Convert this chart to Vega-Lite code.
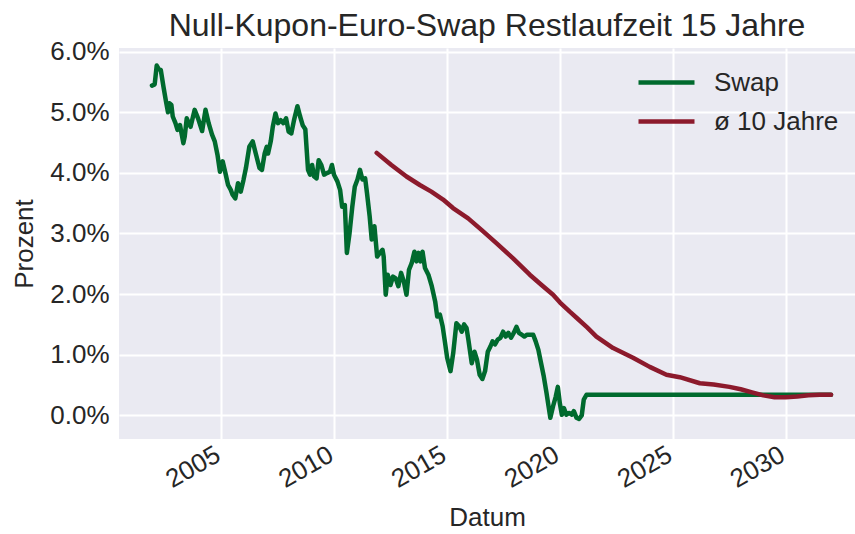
{
  "$schema": "https://vega.github.io/schema/vega-lite/v6.json",
  "autosize": {"type": "none"},
  "width": 736,
  "height": 391,
  "padding": {"left": 119, "top": 48, "right": 0, "bottom": 95},
  "background": "white",
  "title": {
    "text": "Null-Kupon-Euro-Swap Restlaufzeit 15 Jahre",
    "font": "Liberation Sans",
    "fontSize": 32,
    "fontWeight": "normal",
    "color": "#262626",
    "anchor": "middle",
    "offset": -4
  },
  "datasets": {
    "swap": [
      {"jahr": 2001.93, "wert": 5.44}, {"jahr": 2002.05, "wert": 5.46}, {"jahr": 2002.14, "wert": 5.77}, {"jahr": 2002.23, "wert": 5.71},
      {"jahr": 2002.32, "wert": 5.70}, {"jahr": 2002.44, "wert": 5.42}, {"jahr": 2002.55, "wert": 5.18}, {"jahr": 2002.64, "wert": 5.00},
      {"jahr": 2002.70, "wert": 5.15}, {"jahr": 2002.79, "wert": 5.12}, {"jahr": 2002.85, "wert": 4.93}, {"jahr": 2002.97, "wert": 4.82},
      {"jahr": 2003.06, "wert": 4.71}, {"jahr": 2003.17, "wert": 4.79}, {"jahr": 2003.32, "wert": 4.49}, {"jahr": 2003.38, "wert": 4.60},
      {"jahr": 2003.47, "wert": 4.90}, {"jahr": 2003.56, "wert": 4.82}, {"jahr": 2003.64, "wert": 4.76}, {"jahr": 2003.82, "wert": 5.04},
      {"jahr": 2003.97, "wert": 4.90}, {"jahr": 2004.15, "wert": 4.69}, {"jahr": 2004.30, "wert": 5.04}, {"jahr": 2004.44, "wert": 4.82},
      {"jahr": 2004.59, "wert": 4.63}, {"jahr": 2004.71, "wert": 4.52}, {"jahr": 2004.83, "wert": 4.30}, {"jahr": 2004.94, "wert": 4.02},
      {"jahr": 2005.06, "wert": 4.19}, {"jahr": 2005.18, "wert": 4.00}, {"jahr": 2005.30, "wert": 3.80}, {"jahr": 2005.42, "wert": 3.72},
      {"jahr": 2005.50, "wert": 3.64}, {"jahr": 2005.62, "wert": 3.58}, {"jahr": 2005.74, "wert": 3.83}, {"jahr": 2005.86, "wert": 3.69},
      {"jahr": 2005.98, "wert": 3.88}, {"jahr": 2006.09, "wert": 4.08}, {"jahr": 2006.24, "wert": 4.43}, {"jahr": 2006.39, "wert": 4.52},
      {"jahr": 2006.54, "wert": 4.30}, {"jahr": 2006.69, "wert": 4.08}, {"jahr": 2006.80, "wert": 4.05}, {"jahr": 2006.92, "wert": 4.32},
      {"jahr": 2007.01, "wert": 4.43}, {"jahr": 2007.07, "wert": 4.32}, {"jahr": 2007.19, "wert": 4.52}, {"jahr": 2007.28, "wert": 4.76},
      {"jahr": 2007.40, "wert": 4.98}, {"jahr": 2007.51, "wert": 4.82}, {"jahr": 2007.63, "wert": 4.87}, {"jahr": 2007.75, "wert": 4.82},
      {"jahr": 2007.87, "wert": 4.90}, {"jahr": 2007.98, "wert": 4.68}, {"jahr": 2008.10, "wert": 4.65}, {"jahr": 2008.22, "wert": 4.87},
      {"jahr": 2008.37, "wert": 5.10}, {"jahr": 2008.49, "wert": 4.93}, {"jahr": 2008.61, "wert": 4.78}, {"jahr": 2008.72, "wert": 4.72},
      {"jahr": 2008.84, "wert": 4.05}, {"jahr": 2008.93, "wert": 3.97}, {"jahr": 2009.02, "wert": 4.13}, {"jahr": 2009.11, "wert": 3.94},
      {"jahr": 2009.22, "wert": 3.91}, {"jahr": 2009.31, "wert": 4.21}, {"jahr": 2009.43, "wert": 4.13}, {"jahr": 2009.55, "wert": 3.97},
      {"jahr": 2009.70, "wert": 4.00}, {"jahr": 2009.81, "wert": 4.02}, {"jahr": 2009.90, "wert": 4.13}, {"jahr": 2009.99, "wert": 3.97},
      {"jahr": 2010.14, "wert": 3.86}, {"jahr": 2010.26, "wert": 3.72}, {"jahr": 2010.35, "wert": 3.44}, {"jahr": 2010.47, "wert": 3.47},
      {"jahr": 2010.56, "wert": 2.68}, {"jahr": 2010.68, "wert": 3.01}, {"jahr": 2010.80, "wert": 3.44}, {"jahr": 2010.91, "wert": 3.77},
      {"jahr": 2011.03, "wert": 3.89}, {"jahr": 2011.14, "wert": 4.05}, {"jahr": 2011.25, "wert": 3.89}, {"jahr": 2011.37, "wert": 3.91},
      {"jahr": 2011.45, "wert": 3.67}, {"jahr": 2011.57, "wert": 3.28}, {"jahr": 2011.66, "wert": 2.90}, {"jahr": 2011.78, "wert": 3.12},
      {"jahr": 2011.90, "wert": 2.62}, {"jahr": 2012.02, "wert": 2.68}, {"jahr": 2012.14, "wert": 2.73}, {"jahr": 2012.19, "wert": 2.62},
      {"jahr": 2012.28, "wert": 1.99}, {"jahr": 2012.37, "wert": 2.32}, {"jahr": 2012.49, "wert": 2.15}, {"jahr": 2012.60, "wert": 2.29},
      {"jahr": 2012.72, "wert": 2.26}, {"jahr": 2012.84, "wert": 2.13}, {"jahr": 2012.96, "wert": 2.35}, {"jahr": 2013.08, "wert": 2.21},
      {"jahr": 2013.20, "wert": 1.99}, {"jahr": 2013.31, "wert": 2.40}, {"jahr": 2013.43, "wert": 2.51}, {"jahr": 2013.55, "wert": 2.70},
      {"jahr": 2013.64, "wert": 2.54}, {"jahr": 2013.73, "wert": 2.68}, {"jahr": 2013.82, "wert": 2.54}, {"jahr": 2013.91, "wert": 2.70},
      {"jahr": 2014.02, "wert": 2.43}, {"jahr": 2014.17, "wert": 2.32}, {"jahr": 2014.32, "wert": 2.13}, {"jahr": 2014.47, "wert": 1.88},
      {"jahr": 2014.56, "wert": 1.63}, {"jahr": 2014.68, "wert": 1.66}, {"jahr": 2014.80, "wert": 1.47}, {"jahr": 2014.91, "wert": 1.19},
      {"jahr": 2015.00, "wert": 0.95}, {"jahr": 2015.15, "wert": 0.73}, {"jahr": 2015.27, "wert": 1.03}, {"jahr": 2015.41, "wert": 1.52},
      {"jahr": 2015.53, "wert": 1.47}, {"jahr": 2015.65, "wert": 1.38}, {"jahr": 2015.75, "wert": 1.50}, {"jahr": 2015.86, "wert": 1.44},
      {"jahr": 2015.94, "wert": 1.25}, {"jahr": 2016.09, "wert": 0.86}, {"jahr": 2016.21, "wert": 1.05}, {"jahr": 2016.32, "wert": 0.92},
      {"jahr": 2016.44, "wert": 0.67}, {"jahr": 2016.56, "wert": 0.60}, {"jahr": 2016.68, "wert": 0.73}, {"jahr": 2016.80, "wert": 1.05},
      {"jahr": 2016.92, "wert": 1.14}, {"jahr": 2017.01, "wert": 1.22}, {"jahr": 2017.12, "wert": 1.17}, {"jahr": 2017.24, "wert": 1.25},
      {"jahr": 2017.36, "wert": 1.28}, {"jahr": 2017.48, "wert": 1.38}, {"jahr": 2017.59, "wert": 1.30}, {"jahr": 2017.71, "wert": 1.36},
      {"jahr": 2017.83, "wert": 1.28}, {"jahr": 2017.95, "wert": 1.36}, {"jahr": 2018.07, "wert": 1.46}, {"jahr": 2018.18, "wert": 1.36},
      {"jahr": 2018.30, "wert": 1.33}, {"jahr": 2018.42, "wert": 1.30}, {"jahr": 2018.54, "wert": 1.33}, {"jahr": 2018.66, "wert": 1.33},
      {"jahr": 2018.81, "wert": 1.33}, {"jahr": 2018.92, "wert": 1.22}, {"jahr": 2019.04, "wert": 1.08}, {"jahr": 2019.16, "wert": 0.86},
      {"jahr": 2019.28, "wert": 0.64}, {"jahr": 2019.40, "wert": 0.37}, {"jahr": 2019.49, "wert": 0.15}, {"jahr": 2019.57, "wert": -0.04},
      {"jahr": 2019.69, "wert": 0.15}, {"jahr": 2019.81, "wert": 0.31}, {"jahr": 2019.90, "wert": 0.47}, {"jahr": 2019.99, "wert": 0.20},
      {"jahr": 2020.08, "wert": 0.01}, {"jahr": 2020.17, "wert": 0.12}, {"jahr": 2020.28, "wert": 0.01}, {"jahr": 2020.40, "wert": 0.04},
      {"jahr": 2020.52, "wert": 0.01}, {"jahr": 2020.61, "wert": 0.07}, {"jahr": 2020.73, "wert": -0.04}, {"jahr": 2020.84, "wert": -0.06},
      {"jahr": 2020.96, "wert": 0.00}, {"jahr": 2021.05, "wert": 0.26}, {"jahr": 2021.17, "wert": 0.34}, {"jahr": 2024.00, "wert": 0.34},
      {"jahr": 2028.00, "wert": 0.34}, {"jahr": 2032.00, "wert": 0.34}
    ],
    "avg": [
      {"jahr": 2011.88, "wert": 4.33}, {"jahr": 2012.53, "wert": 4.13}, {"jahr": 2013.20, "wert": 3.94}, {"jahr": 2013.79, "wert": 3.80},
      {"jahr": 2014.30, "wert": 3.69}, {"jahr": 2014.82, "wert": 3.56}, {"jahr": 2015.26, "wert": 3.42}, {"jahr": 2015.93, "wert": 3.25},
      {"jahr": 2016.52, "wert": 3.06}, {"jahr": 2017.18, "wert": 2.84}, {"jahr": 2017.92, "wert": 2.59}, {"jahr": 2018.66, "wert": 2.32},
      {"jahr": 2019.18, "wert": 2.15}, {"jahr": 2019.69, "wert": 1.99}, {"jahr": 2020.00, "wert": 1.86}, {"jahr": 2020.43, "wert": 1.71},
      {"jahr": 2020.73, "wert": 1.61}, {"jahr": 2021.20, "wert": 1.45}, {"jahr": 2021.61, "wert": 1.30}, {"jahr": 2022.35, "wert": 1.11},
      {"jahr": 2023.23, "wert": 0.95}, {"jahr": 2023.97, "wert": 0.80}, {"jahr": 2024.71, "wert": 0.67}, {"jahr": 2025.30, "wert": 0.63},
      {"jahr": 2026.19, "wert": 0.53}, {"jahr": 2026.80, "wert": 0.51}, {"jahr": 2027.50, "wert": 0.47}, {"jahr": 2028.00, "wert": 0.43},
      {"jahr": 2028.50, "wert": 0.38}, {"jahr": 2029.00, "wert": 0.33}, {"jahr": 2029.50, "wert": 0.30}, {"jahr": 2030.00, "wert": 0.30},
      {"jahr": 2030.50, "wert": 0.31}, {"jahr": 2031.00, "wert": 0.33}, {"jahr": 2031.50, "wert": 0.34}, {"jahr": 2032.00, "wert": 0.34}
    ]
  },
  "layer": [
    {
      "data": {"name": "swap"},
      "transform": [{"calculate": "'Swap'", "as": "Reihe"}],
      "mark": {"type": "line", "strokeWidth": 4.5, "strokeCap": "round", "strokeJoin": "round", "clip": true},
      "encoding": {
        "x": {"field": "jahr", "type": "quantitative"},
        "y": {"field": "wert", "type": "quantitative"},
        "color": {"field": "Reihe", "type": "nominal"}
      }
    },
    {
      "data": {"name": "avg"},
      "transform": [{"calculate": "'ø 10 Jahre'", "as": "Reihe"}],
      "mark": {"type": "line", "strokeWidth": 4.5, "strokeCap": "round", "strokeJoin": "round", "clip": true},
      "encoding": {
        "x": {"field": "jahr", "type": "quantitative"},
        "y": {"field": "wert", "type": "quantitative"},
        "color": {"field": "Reihe", "type": "nominal"}
      }
    }
  ],
  "resolve": {"scale": {"color": "shared"}},
  "encoding": {
    "x": {
      "field": "jahr", "type": "quantitative", "title": "Datum",
      "scale": {"domain": [2000.47, 2033.06], "nice": false, "zero": false},
      "axis": {"values": [2005, 2010, 2015, 2020, 2025, 2030], "format": "d", "labelAngle": -30, "labelAlign": "right", "labelBaseline": "top", "labelPadding": 2, "labelOffset": -10, "titlePadding": 12}
    },
    "y": {
      "field": "wert", "type": "quantitative", "title": "Prozent",
      "scale": {"domain": [-0.39, 6.06], "nice": false, "zero": false},
      "axis": {"values": [0, 1, 2, 3, 4, 5, 6], "labelExpr": "format(datum.value, '.1f') + '%'", "labelPadding": 10, "titlePadding": 12}
    },
    "color": {
      "field": "Reihe", "type": "nominal",
      "scale": {"domain": ["Swap", "ø 10 Jahre"], "range": ["#006a2e", "#8c1a2c"]},
      "legend": {"title": null, "orient": "none", "legendX": 531, "legendY": 18, "symbolType": "M -2 0 L 2 0", "symbolSize": 784, "symbolStrokeWidth": 4.5, "symbolFillColor": "transparent", "rowPadding": 9, "labelOffset": 31, "padding": 0, "labelFontSize": 26, "labelFont": "Liberation Sans", "labelColor": "#262626"}
    }
  },
  "config": {
    "view": {"fill": "#EAEAF2", "stroke": null},
    "axis": {
      "domain": false, "ticks": false, "grid": true, "gridColor": "white", "gridWidth": 2, "gridOpacity": 1,
      "labelFont": "Liberation Sans", "labelFontSize": 26, "labelColor": "#262626",
      "titleFont": "Liberation Sans", "titleFontSize": 26, "titleFontWeight": "normal", "titleColor": "#262626",
      "labelOverlap": false, "labelBound": false, "labelFlush": false
    }
  }
}
